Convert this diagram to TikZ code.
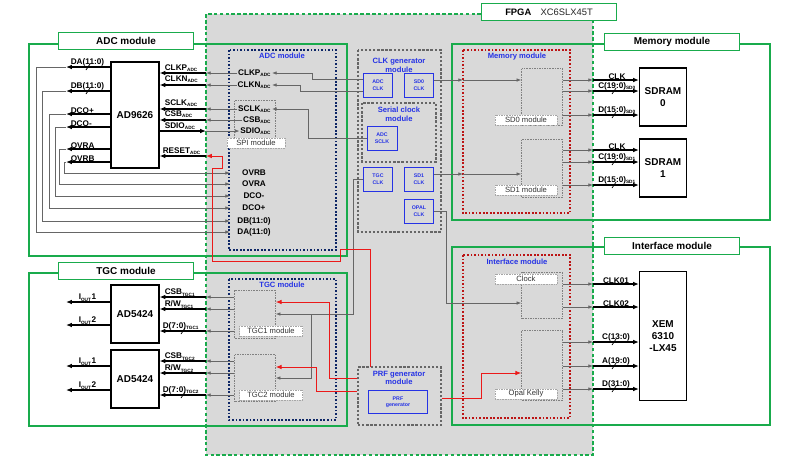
\documentclass[tikz,border=0pt]{standalone}
\usepackage{fontspec}
\setmainfont{Liberation Sans}
\usetikzlibrary{arrows.meta,positioning}
\definecolor{cgreen}{rgb}{0.1,0.67,0.3}
\definecolor{cnavy}{rgb}{0.05,0.15,0.4}
\definecolor{cblue}{rgb}{0.15,0.2,0.9}
\definecolor{cred}{rgb}{0.92,0.1,0.1}
\definecolor{cgray}{rgb}{0.4,0.4,0.4}
\definecolor{cfill}{rgb}{0.85,0.85,0.85}
\newcommand\sbs[1]{\textsubscript{\scalebox{0.8}{#1}}}
\newcommand\bslash[2]{\draw[line width=0.6pt] (#1-2,#2+3) -- (#1+2,#2-3);}
\tikzset{
  grnbox/.style={draw=cgreen,line width=1.4pt},
  grntag/.style={draw=cgreen,line width=1.4pt,fill=white,minimum width=4.05cm,minimum height=0.5cm,font=\bfseries\fontsize{8.5}{9}\selectfont},
  chip/.style={draw,line width=1pt,fill=white,align=center,font=\bfseries\fontsize{8.5}{10}\selectfont},
  navybox/.style={draw=cnavy,line width=1.2pt,dash pattern=on 1.5pt off 1.5pt},
  redbox/.style={draw=cred!80!black,line width=1pt,dash pattern=on 1.5pt off 1.5pt},
  grybox/.style={draw=cgray,line width=1pt,dash pattern=on 2pt off 1.5pt},
  subbox/.style={draw=gray,densely dotted,inner sep=0pt},
  subtag/.style={draw=gray!70,densely dotted,fill=white,inner sep=0pt,minimum height=0.3cm,font=\fontsize{6.5}{7}\selectfont,text=gray!40!black},
  clkbox/.style={draw=cblue,line width=0.8pt,align=center,text=cblue,font=\bfseries\fontsize{4.5}{5.5}\selectfont,minimum width=0.87cm,minimum height=0.72cm,inner sep=0pt},
  title/.style={text=cblue,align=center,font=\bfseries\fontsize{6.5}{7.5}\selectfont},
  sig/.style={font=\bfseries\fontsize{7}{8}\selectfont,inner sep=0.5pt},
  garr/.style={draw=cgray,line width=0.6pt,-{Latex[length=4pt,width=3pt]}},
  barr/.style={draw=black,line width=1pt,-{Latex[length=5pt,width=4pt]}},
  rarr/.style={draw=cred,line width=0.8pt,-{Latex[length=5pt,width=4pt]}},
}
\begin{document}
\begin{tikzpicture}[x=0.03cm,y=-0.03cm]
\useasboundingbox (0,0) rectangle (800,462);
% FPGA area
\fill[cfill] (206,14) rectangle (593,455);
\draw[cgreen,line width=1.6pt,dash pattern=on 3pt off 2pt] (481,14) -- (206,14) -- (206,455) -- (593,455) -- (593,20);
\node[grntag,font=\fontsize{8}{9}\selectfont] (fpgatag) at (549,12) {\textbf{FPGA}\quad{\color{gray!30!black}XC6SLX45T}};
\coordinate (fl) at (206,0);
\coordinate (fr) at (593,0);
% outer modules
\draw[grnbox] (29,44) rectangle (347,256);
\node[grntag] (adctag) at (126,41) {ADC module};
\draw[grnbox] (29,273) rectangle (347,426);
\node[grntag] (tgctag) at (126,271) {TGC module};
\draw[grnbox] (452,44) rectangle (770,220);
\node[grntag] (memtag) at (672,42) {Memory module};
\draw[grnbox] (452,247) rectangle (770,425);
\node[grntag] (iftag) at (672,246) {Interface module};
% inner modules
\draw[navybox] (229,50) rectangle (336,250);
\node[title] at (282,56) {ADC module};
\draw[navybox] (229,279) rectangle (336,420);
\node[title] at (282,285) {TGC module};
\draw[grybox] (358,50) rectangle (441,232);
\node[title] at (399,65) {CLK generator\\module};
\draw[grybox] (362,103) rectangle (436,162);
\node[title] at (399,114) {Serial clock\\module};
\node[grybox,minimum width=2.49cm,minimum height=1.74cm] (prfgen) at (399.5,396) {};
\node[title] at (399,378) {PRF generator\\module};
\draw[redbox] (463,50) rectangle (570,213);
\node[title] at (517,57) {Memory module};
\draw[redbox] (463,255) rectangle (570,418);
\node[title] at (517,262) {Interface module};
% clock sources
\node[clkbox] (adcclk) at (378,85) {ADC\\CLK};
\node[clkbox] (sd0clk) at (419,85) {SD0\\CLK};
\node[clkbox,minimum width=0.9cm] (adcsclk) at (382,138) {ADC\\SCLK};
\node[clkbox] (tgcclk) at (378,179) {TGC\\CLK};
\node[clkbox] (sd1clk) at (419,179) {SD1\\CLK};
\node[clkbox] (opalclk) at (419,211) {OPAL\\CLK};
\node[clkbox,minimum width=1.77cm,minimum height=0.69cm] (prf) at (398,402) {PRF\\generator};
% sub blocks
\node[subbox,minimum width=1.23cm,minimum height=1.71cm] (sd0) at (542,97) {};
\node[subtag,minimum width=1.86cm] at (526,120) {SD0 module};
\node[subbox,minimum width=1.23cm,minimum height=1.74cm] (sd1) at (542,168) {};
\node[subtag,minimum width=1.86cm] at (526,190) {SD1 module};
\node[subbox,minimum width=1.23cm,minimum height=1.38cm] (clockb) at (542,295) {};
\node[subtag,minimum width=1.86cm] at (526,279) {Clock};
\node[subbox,minimum width=1.23cm,minimum height=2.1cm] (opal) at (542,365) {};
\node[subtag,minimum width=1.86cm] at (526,394) {Opal Kelly};
\node[subbox,minimum width=1.23cm,minimum height=1.2cm] (spi) at (255,120) {};
\node[subtag,minimum width=1.74cm] at (256,143) {SPI module};
\node[subbox,minimum width=1.23cm,minimum height=1.44cm] (tgc1) at (255,314) {};
\node[subtag,minimum width=1.89cm] at (271,331) {TGC1 module};
\node[subbox,minimum width=1.23cm,minimum height=1.41cm] (tgc2) at (255,378) {};
\node[subtag,minimum width=1.89cm] at (271,395) {TGC2 module};
% chips
\node[chip,minimum width=1.44cm,minimum height=3.18cm] (adc) at (135,115) {AD9626};
\node[chip,minimum width=1.44cm,minimum height=1.74cm] (dac1) at (135,314) {AD5424};
\node[chip,minimum width=1.44cm,minimum height=1.74cm] (dac2) at (135,379) {AD5424};
\node[chip,minimum width=1.41cm,minimum height=1.74cm] (sdram0) at (663,97) {SDRAM\\0};
\node[chip,minimum width=1.41cm,minimum height=1.74cm] (sdram1) at (663,168) {SDRAM\\1};
\node[chip,minimum width=1.41cm,minimum height=3.87cm] (xem) at (663,336) {XEM\\6310\\-LX45};
% ADC control signals
\node[sig,anchor=east] (clkpi) at (272,73) {CLKP\sbs{ADC}};
\node[sig,anchor=east] (clkni) at (272,85) {CLKN\sbs{ADC}};
\node[sig,anchor=east] (sclki) at (272,109) {SCLK\sbs{ADC}};
\node[sig,anchor=east] (csbi) at (272,120) {CSB\sbs{ADC}};
\node[sig,anchor=east] (sdioi) at (272,131) {SDIO\sbs{ADC}};
\foreach \n/\t/\y in {clkp/CLKP/68,clkn/CLKN/79,sclk/SCLK/103,csb/CSB/114,sdio/SDIO/126}
  \node[sig,anchor=west] (\n o) at (164,\y) {\t\sbs{ADC}};
\node[sig,anchor=west] (reseto) at (162,151) {RESET\sbs{ADC}};
\foreach \n in {clkp,clkn,sclk,csb}{
  \draw[garr] (\n i.west) -- (fl |- \n i.west);
  \draw[barr] (fl |- \n i.west) -- (adc.east |- \n i.west);
}
\draw[garr,{Latex[length=4pt,width=3pt]}-] (sdioi.west) -- (fl |- sdioi.west);
\draw[barr,{Latex[length=5pt,width=4pt]}-] (fl |- sdioi.west) -- (adc.east |- sdioi.west);
\draw[barr] (fl |- 0,156) -- (adc.east |- 0,156);
% clock feeds
\draw[garr] (adcclk.west |- 0,79) -- (312,79) |- (clkpi.east);
\draw[garr] (adcclk.west |- 0,91) -- (300,91) |- (clkni.east);
\draw[garr] (adcsclk.west) -- (308,138) |- (sclki.east);
% ADC data back into FPGA
\foreach \n/\t/\yo/\x/\yi in {da/DA(11:0)/67/36/232,db/DB(11:0)/91/42/221,dcop/DCO+/114/49/208,dcom/DCO-/127/55/196,ovra/OVRA/149/59/184,ovrb/OVRB/162/64/173}{
  \node[sig] (\n i) at (254,\yi) {\t};
  \node[sig,anchor=south west] at (70,\yo) {\t};
  \draw[barr] (adc.west |- 0,\yo) -- (66,\yo);
  \draw[garr] (66,\yo) -- (\x,\yo) |- (230,\yi);
}
\bslash{88}{67}
\bslash{88}{91}
% TGC
\foreach \d/\s/\k/\ya/\yb/\yc/\yo/\yt in {dac1/tgc1/TGC1/297/309/331/302/325,dac2/tgc2/TGC2/361/373/395/366/390}{
  \node[sig,anchor=south west] (csb\k) at (164,\ya) {CSB\sbs{\k}};
  \node[sig,anchor=south west] (rw\k) at (164,\yb) {R/W\sbs{\k}};
  \node[sig,anchor=south west] (d\k) at (162,\yc) {D(7:0)\sbs{\k}};
  \foreach \y in {\ya,\yb,\yc}{
    \draw[garr] (\s.west |- 0,\y) -- (fl |- 0,\y);
    \draw[barr] (fl |- 0,\y) -- (\d.east |- 0,\y);
  }
  \bslash{183}{\yc}
  \draw[barr] (\d.west |- 0,\yo) -- (66,\yo);
  \draw[barr] (\d.west |- 0,\yt) -- (66,\yt);
  \node[sig,anchor=south west] at (78,\yo) {I\sbs{OUT}1};
  \node[sig,anchor=south west] at (78,\yt) {I\sbs{OUT}2};
}
\draw[garr] (tgcclk.west) -- (353,179) -- (353,314) -- (tgc1.east);
\draw[garr] (311,314) |- (tgc2.east);
% PRF red lines
\draw[rarr] (prfgen.west |- 0,378) -- (329,378) |- (tgc1.east |- 0,302);
\draw[rarr] (prfgen.west |- 0,391) -- (316,391) |- (tgc2.east |- 0,367);
\draw[rarr] (370,367) -- (370,249) -- (340,249) -- (340,261) -- (212,261) -- (212,168) -- (222,168) -- (222,156) -- (fl |- 0,156);
\draw[rarr] (prfgen.east |- 0,398) -- (481,398) |- (opal.west |- 0,373);
% memory
\draw[garr] (sd0clk.east |- 0,80) -- (463,80);
\draw[garr] (463,80) -- (sd0.west |- 0,80);
\draw[garr] (sd1clk.east |- 0,174) -- (463,174);
\draw[garr] (463,174) -- (sd1.west |- 0,174);
\foreach \b/\r/\k/\ya/\yb/\yc in {sd0/sdram0/SD0/80/91/115,sd1/sdram1/SD1/150/162/185}{
  \foreach \y in {\ya,\yb,\yc}{
    \draw[garr] (\b.east |- 0,\y) -- (fr |- 0,\y);
    \draw[barr] (fr |- 0,\y) -- (\r.west |- 0,\y);
  }
  \node[sig,anchor=south] at (617,\ya) {CLK};
  \node[sig,anchor=south] at (617,\yb) {C(19:0)\sbs{\k}};
  \node[sig,anchor=south] at (617,\yc) {D(15:0)\sbs{\k}};
  \bslash{614}{\yb}
  \bslash{614}{\yc}
}
% interface
\draw[garr] (opalclk.east) -- (446,211) |- (clockb.west |- 0,303);
\foreach \b/\t/\y/\sl in {clockb/CLK01/284/0,clockb/CLK02/307/0,opal/C(13:0)/342/1,opal/A(19:0)/366/1,opal/D(31:0)/389/1}{
  \draw[garr] (\b.east |- 0,\y) -- (fr |- 0,\y);
  \draw[barr] (fr |- 0,\y) -- (xem.west |- 0,\y);
  \node[sig,anchor=south] at (616,\y) {\t};
  \ifnum\sl=1 \bslash{614}{\y}\fi
}
\end{tikzpicture}
\end{document}
